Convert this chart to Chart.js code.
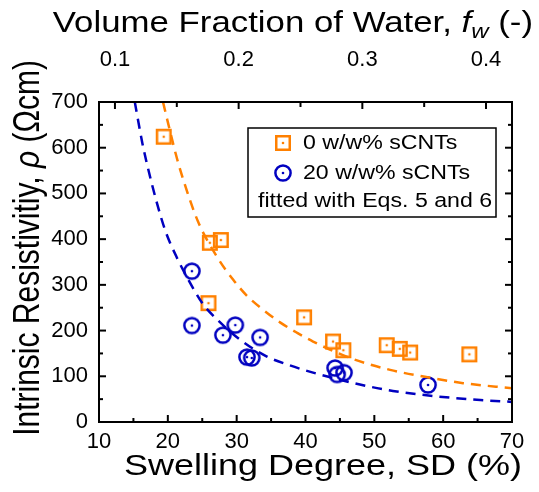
<!DOCTYPE html>
<html>
<head>
<meta charset="utf-8">
<script src="https://cdn.jsdelivr.net/npm/chart.js@4/dist/chart.umd.min.js"></script>
<style>
  html, body { margin: 0; padding: 0; background: #fff; }
  canvas { display: block; }
</style>
</head>
<body>
<canvas id="c" width="539" height="492" style="width:539px;height:492px"></canvas>
<script>
// Measured samples: 0 w/w% sCNTs membranes
const sd0  = [19.4, 26.1, 27.7, 25.9, 39.8, 44.0, 45.5, 51.8, 53.7, 55.2, 63.8];
const rho0 = [624, 392, 398, 260, 229, 176, 157, 168, 160, 152, 148];

// Measured samples: 20 w/w% sCNTs membranes
const sd20  = [23.5, 23.5, 28.0, 29.8, 33.4, 31.5, 32.2, 44.3, 44.6, 45.6, 57.8];
const rho20 = [330, 211, 190, 212, 185, 142, 140, 118, 104, 108, 81];

// Fitted curves (Eqs. 5 and 6)
const fitSd0  = [19.3, 20.0, 21.3, 22.5, 24.4, 27.2, 29.5, 31.5, 33.8, 36.3, 38.8, 41.1, 46.5, 52.3, 58.5, 62.9, 70];
const fitRho0 = [700, 656, 578, 518, 438, 360, 311, 276, 246, 218, 195, 176, 140, 114, 96, 85, 74];
const fitSd20  = [15.2, 16.3, 17.2, 18.4, 19.6, 21.3, 23.7, 25.1, 27.1, 30.5, 34.4, 37.7, 41.1, 47.9, 52.7, 59.1, 65.4, 70];
const fitRho20 = [700, 610, 550, 480, 420, 360, 292, 258, 225, 180, 143, 124, 108, 82, 68, 56, 48, 44];

// Axis ticks
const sdTicks  = [10, 20, 30, 40, 50, 60, 70];
const rhoTicks = [0, 100, 200, 300, 400, 500, 600, 700];
const fwTicks  = [0.1, 0.2, 0.3, 0.4];
const fwRange  = [0.0871, 0.421];   // water fraction at SD = 10 % and SD = 70 %

const ORANGE = '#ff8000';
const BLUE   = '#0000c0';
const FONT   = '"Liberation Sans", Arial, Helvetica, sans-serif';
const STRETCH = 1.2;

const pairs = (xs, ys) => xs.map((x, i) => ({ x, y: ys[i] }));

// Hollow markers with a centre dot
function makeMarker(kind, color) {
  const c = document.createElement('canvas');
  c.width = 22; c.height = 22;
  const g = c.getContext('2d');
  g.strokeStyle = color; g.fillStyle = color; g.lineWidth = 2.5;
  if (kind === 'square') {
    g.strokeRect(11 - 6.75, 11 - 6.75, 13.5, 13.5);
  } else {
    g.beginPath(); g.arc(11, 11, 7.6, 0, Math.PI * 2); g.stroke();
  }
  g.beginPath(); g.arc(11, 11, 1.3, 0, Math.PI * 2); g.fill();
  return c;
}
const squareMark = makeMarker('square', ORANGE);
const circleMark = makeMarker('circle', BLUE);

function stretchedText(ctx, text, x, y, font, align) {
  ctx.save();
  ctx.font = font;
  ctx.textAlign = align || 'left';
  ctx.textBaseline = 'middle';
  ctx.translate(x, y);
  ctx.scale(STRETCH, 1);
  ctx.fillText(text, 0, 0);
  ctx.restore();
}

const framePlugin = {
  id: 'frame',
  afterDraw(chart) {
    const { ctx, chartArea: a, scales } = chart;
    ctx.save();
    ctx.strokeStyle = '#000';
    ctx.fillStyle = '#000';
    ctx.lineWidth = 2;
    ctx.strokeRect(a.left, a.top, a.right - a.left, a.bottom - a.top);

    const tick = (x1, y1, x2, y2) => { ctx.beginPath(); ctx.moveTo(x1, y1); ctx.lineTo(x2, y2); ctx.stroke(); };
    const MAJ = 7, MIN = 4;

    // bottom SD axis
    for (let v = 10; v <= 70; v += 5) {
      const px = scales.x.getPixelForValue(v);
      const len = v % 10 === 0 ? MAJ : MIN;
      tick(px, a.bottom, px, a.bottom - len);
    }
    // top water-fraction axis
    for (let k = 2; k <= 8; k++) {
      const v = k * 0.05;
      const px = scales.xTop.getPixelForValue(v);
      const len = k % 2 === 0 ? MAJ : MIN + 1;
      tick(px, a.top, px, a.top + len);
    }
    // left and right rho axes
    for (let v = 0; v <= 700; v += 50) {
      const py = scales.y.getPixelForValue(v);
      const len = v % 100 === 0 ? MAJ : MIN;
      tick(a.left, py, a.left + len, py);
      tick(a.right, py, a.right - len, py);
    }

    // bottom title
    ctx.save();
    ctx.font = '30px ' + FONT;
    ctx.textAlign = 'center';
    ctx.textBaseline = 'alphabetic';
    ctx.translate(323, 475);
    ctx.scale(STRETCH, 1);
    ctx.fillText('Swelling Degree, SD (%)', 0, 0);
    ctx.restore();

    // top title with italic f and subscript w
    ctx.save();
    const tParts = [
      { t: 'Volume Fraction of Water, ', f: '29px ' + FONT, dy: 0 },
      { t: 'f', f: 'italic 29px ' + FONT, dy: 0 },
      { t: 'w', f: 'italic 20px ' + FONT, dy: 6 },
      { t: ' (-)', f: '29px ' + FONT, dy: 0 }
    ];
    let total = 0;
    tParts.forEach(p => { ctx.font = p.f; p.w = ctx.measureText(p.t).width; total += p.w; });
    ctx.textBaseline = 'alphabetic';
    ctx.translate(533 - total * STRETCH, 32);
    ctx.scale(STRETCH, 1);
    let cx = 0;
    tParts.forEach(p => { ctx.font = p.f; ctx.fillText(p.t, cx, p.dy); cx += p.w; });
    ctx.restore();

    // left title, rotated, with italic rho
    ctx.save();
    const lParts = [
      { t: 'Intrinsic Resistivitiy, ', f: '30px ' + FONT },
      { t: 'ρ', f: 'italic 30px ' + FONT },
      { t: ' (Ωcm)', f: '30px ' + FONT }
    ];
    let lt = 0;
    lParts.forEach(p => { ctx.font = p.f; p.w = ctx.measureText(p.t).width; lt += p.w; });
    ctx.textBaseline = 'alphabetic';
    ctx.translate(39, 248);
    ctx.rotate(-Math.PI / 2);
    ctx.scale(1, STRETCH);
    let lx = -lt / 2;
    lParts.forEach(p => { ctx.font = p.f; ctx.fillText(p.t, lx, 0); lx += p.w; });
    ctx.restore();

    // legend box
    ctx.lineWidth = 1.5;
    ctx.strokeRect(248, 128, 248, 89);
    ctx.drawImage(squareMark, 283 - 11, 143 - 11);
    ctx.drawImage(circleMark, 283 - 11, 173 - 11);
    const lf = '19.3px ' + FONT;
    stretchedText(ctx, '0 w/w% sCNTs', 303, 144, lf);
    stretchedText(ctx, '20 w/w% sCNTs', 303, 174, lf);
    stretchedText(ctx, 'fitted with Eqs. 5 and 6', 258, 202, lf);
    ctx.restore();
  }
};

const tickFont = { family: FONT, size: 22 };

new Chart(document.getElementById('c'), {
  type: 'scatter',
  data: {
    datasets: [
      {
        label: '0 w/w% sCNTs',
        data: pairs(sd0, rho0),
        pointStyle: squareMark,
        order: 2
      },
      {
        label: '20 w/w% sCNTs',
        data: pairs(sd20, rho20),
        pointStyle: circleMark,
        order: 2
      },
      {
        type: 'line',
        label: 'fit 0 w/w%',
        data: pairs(fitSd0, fitRho0),
        borderColor: ORANGE,
        borderWidth: 2.5,
        borderDash: [10, 7],
        pointRadius: 0,
        fill: false,
        cubicInterpolationMode: 'monotone',
        order: 1
      },
      {
        type: 'line',
        label: 'fit 20 w/w%',
        data: pairs(fitSd20, fitRho20),
        borderColor: BLUE,
        borderWidth: 2.5,
        borderDash: [10, 7],
        pointRadius: 0,
        fill: false,
        cubicInterpolationMode: 'monotone',
        order: 1
      }
    ]
  },
  options: {
    responsive: false,
    animation: false,
    layout: { padding: 0 },
    plugins: { legend: { display: false }, tooltip: { enabled: false } },
    scales: {
      x: {
        type: 'linear', position: 'bottom', min: 10, max: 70,
        afterFit(s) { s.height = 70; },
        afterBuildTicks(s) { s.ticks = sdTicks.map(v => ({ value: v })); },
        grid: { display: false, drawTicks: false },
        border: { display: false },
        ticks: { font: tickFont, color: '#000', padding: 7, maxRotation: 0, autoSkip: false }
      },
      xTop: {
        type: 'linear', position: 'top', min: fwRange[0], max: fwRange[1],
        afterFit(s) { s.height = 102; },
        afterBuildTicks(s) { s.ticks = fwTicks.map(v => ({ value: v })); },
        grid: { display: false, drawTicks: false },
        border: { display: false },
        ticks: { font: tickFont, color: '#000', padding: 29, maxRotation: 0, autoSkip: false,
                 callback: v => v.toFixed(1) }
      },
      y: {
        type: 'linear', position: 'left', min: 0, max: 700,
        afterFit(s) { s.width = 99; },
        afterBuildTicks(s) { s.ticks = rhoTicks.map(v => ({ value: v })); },
        grid: { display: false, drawTicks: false },
        border: { display: false },
        ticks: { font: tickFont, color: '#000', padding: 11, autoSkip: false }
      },
      yRight: {
        type: 'linear', position: 'right', min: 0, max: 700,
        afterFit(s) { s.width = 27; },
        grid: { display: false, drawTicks: false },
        border: { display: false },
        ticks: { display: false }
      }
    }
  },
  plugins: [framePlugin]
});
</script>
</body>
</html>
